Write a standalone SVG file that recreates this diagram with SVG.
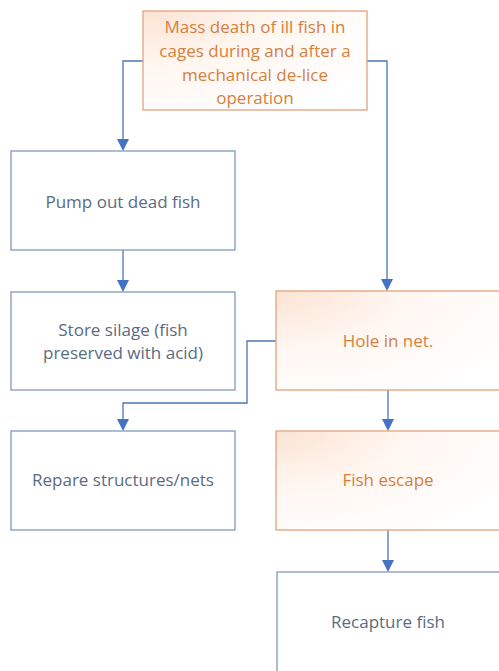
<svg xmlns="http://www.w3.org/2000/svg" width="499" height="671" viewBox="0 0 499 671">
<defs>
<radialGradient id="og" cx="0" cy="0" r="1.2" fx="0" fy="0">
<stop offset="0" stop-color="#fbe3d3"/>
<stop offset="0.45" stop-color="#fff6f0"/>
<stop offset="1" stop-color="#ffffff"/>
</radialGradient>
<style>
.bb{fill:#ffffff;stroke:#7f98bd;stroke-width:1.3}
.ob{fill:url(#og);stroke:#e2a37c;stroke-width:1.3}
.bt{font-family:"Open Sans","Noto Sans",sans-serif;font-size:17px;fill:#5b6b82;text-anchor:middle}
.ot{font-family:"Open Sans","Noto Sans",sans-serif;font-size:17px;fill:#d4803f;text-anchor:middle}
.cn{fill:none;stroke:#4d74b8;stroke-width:1.3}
.ar{fill:#4472c4}
</style>
</defs>
<rect width="499" height="671" fill="#ffffff"/>
<g id="connectors">
<polyline class="cn" points="143,61 123,61 123,141"/>
<path class="ar" d="M117,139 L129,139 L123,151 Z"/>
<polyline class="cn" points="367,61 387,61 387,281"/>
<path class="ar" d="M381,279 L393,279 L387,291 Z"/>
<line class="cn" x1="123" y1="250" x2="123" y2="282"/>
<path class="ar" d="M117,280 L129,280 L123,292 Z"/>
<line class="cn" x1="388" y1="390" x2="388" y2="421"/>
<path class="ar" d="M382,419 L394,419 L388,431 Z"/>
<polyline class="cn" points="276,341 247,341 247,403 123,403 123,421"/>
<path class="ar" d="M117,419 L129,419 L123,431 Z"/>
<line class="cn" x1="388" y1="530" x2="388" y2="562"/>
<path class="ar" d="M382,560 L394,560 L388,572 Z"/>
</g>
<g id="n-mass">
<rect class="ob" x="143" y="11" width="224" height="99"/>
<text class="ot" x="255" y="33">Mass death of ill fish in</text>
<text class="ot" x="255" y="57">cages during and after a</text>
<text class="ot" x="255" y="81">mechanical de-lice</text>
<text class="ot" x="255" y="104">operation</text>
</g>
<g id="n-pump">
<rect class="bb" x="11" y="151" width="224" height="99"/>
<text class="bt" x="123" y="208">Pump out dead fish</text>
</g>
<g id="n-store">
<rect class="bb" x="11" y="292" width="224" height="98"/>
<text class="bt" x="123" y="336">Store silage (fish</text>
<text class="bt" x="123" y="359">preserved with acid)</text>
</g>
<g id="n-hole">
<rect class="ob" x="276" y="291" width="230" height="99"/>
<text class="ot" x="388" y="347">Hole in net.</text>
</g>
<g id="n-repare">
<rect class="bb" x="11" y="431" width="224" height="99"/>
<text class="bt" x="123" y="486">Repare structures/nets</text>
</g>
<g id="n-escape">
<rect class="ob" x="276" y="431" width="230" height="99"/>
<text class="ot" x="388" y="486">Fish escape</text>
</g>
<g id="n-recapture">
<rect class="bb" x="277" y="572" width="230" height="110"/>
<text class="bt" x="388" y="628">Recapture fish</text>
</g>
</svg>
